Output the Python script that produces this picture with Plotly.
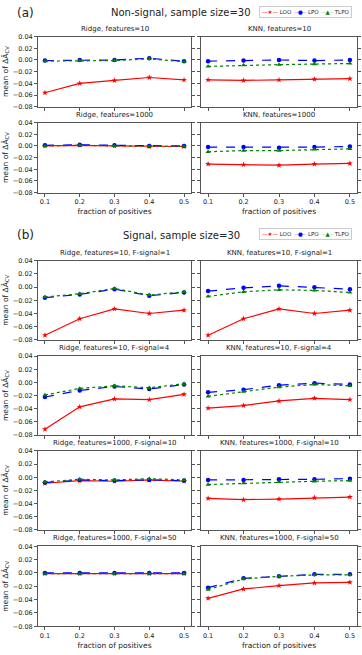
import plotly.graph_objects as go

# fraction of positives
frac = [0.1, 0.2, 0.3, 0.4, 0.5]

# (a) Non-signal, sample size=30
titles_a = ["Ridge, features=10", "KNN, features=10",
            "Ridge, features=1000", "KNN, features=1000"]
loo_a = [
    [-0.056, -0.040, -0.035, -0.030, -0.034],
    [-0.034, -0.035, -0.034, -0.033, -0.032],
    [0.000, 0.001, 0.000, -0.001, -0.001],
    [-0.031, -0.032, -0.033, -0.031, -0.030],
]
lpo_a = [
    [-0.001, 0.000, 0.000, 0.003, -0.002],
    [-0.002, -0.001, 0.000, -0.001, 0.000],
    [0.001, 0.002, 0.001, 0.000, 0.000],
    [-0.002, -0.002, -0.003, -0.002, -0.001],
]
tlpo_a = [
    [-0.002, -0.001, -0.001, 0.002, -0.003],
    [-0.011, -0.009, -0.008, -0.007, -0.006],
    [0.000, 0.001, 0.000, -0.001, -0.001],
    [-0.010, -0.008, -0.008, -0.006, -0.005],
]

# (b) Signal, sample size=30
titles_b = ["Ridge, features=10, F-signal=1", "KNN, features=10, F-signal=1",
            "Ridge, features=10, F-signal=4", "KNN, features=10, F-signal=4",
            "Ridge, features=1000, F-signal=10", "KNN, features=1000, F-signal=10",
            "Ridge, features=1000, F-signal=50", "KNN, features=1000, F-signal=50"]
loo_b = [
    [-0.073, -0.048, -0.033, -0.040, -0.035],
    [-0.073, -0.048, -0.033, -0.040, -0.035],
    [-0.071, -0.037, -0.025, -0.026, -0.018],
    [-0.039, -0.035, -0.028, -0.024, -0.026],
    [-0.009, -0.005, -0.006, -0.004, -0.006],
    [-0.032, -0.034, -0.033, -0.031, -0.030],
    [-0.001, -0.001, -0.001, -0.001, -0.001],
    [-0.038, -0.024, -0.019, -0.015, -0.014],
]
lpo_b = [
    [-0.016, -0.011, -0.003, -0.013, -0.008],
    [-0.006, -0.001, 0.002, 0.000, -0.003],
    [-0.022, -0.012, -0.006, -0.010, -0.003],
    [-0.015, -0.011, -0.004, -0.001, -0.003],
    [-0.008, -0.004, -0.005, -0.004, -0.005],
    [-0.004, -0.004, -0.003, -0.003, -0.002],
    [0.000, 0.000, 0.000, 0.000, 0.000],
    [-0.022, -0.008, -0.005, -0.002, -0.002],
]
tlpo_b = [
    [-0.015, -0.010, -0.002, -0.012, -0.007],
    [-0.014, -0.007, -0.004, -0.005, -0.008],
    [-0.019, -0.009, -0.005, -0.008, -0.002],
    [-0.021, -0.014, -0.007, -0.003, -0.005],
    [-0.007, -0.003, -0.004, -0.002, -0.004],
    [-0.011, -0.009, -0.007, -0.006, -0.005],
    [-0.001, -0.001, -0.001, -0.001, -0.001],
    [-0.025, -0.009, -0.005, -0.003, -0.003],
]

W, H = 362, 655
col_px = [(38, 191), (201, 357)]
row_px = [(33, 104), (120, 191), (260, 340), (356.5, 436.5), (452.5, 532.5), (549, 630)]
axcol = "#555555"

styles = [
    ("LOO", "red", "solid", "star", "—★—"),
    ("LPO", "blue", "dash", "circle", "╌●╌"),
    ("TLPO", "green", "dot", "triangle-up", "┄▲┄"),
]

fig = go.Figure()
layout = dict(width=W, height=H, margin=dict(l=0, r=0, t=0, b=0),
              plot_bgcolor="white", paper_bgcolor="white", showlegend=False,
              font=dict(family="DejaVu Sans", color="#222222"))
annotations = []

panels = [(titles_a, [loo_a, lpo_a, tlpo_a], 0),
          (titles_b, [loo_b, lpo_b, tlpo_b], 2)]

n = 0
for titles, series, row0 in panels:
    for k, title in enumerate(titles):
        n += 1
        r = row0 + k // 2
        c = k % 2
        x0, x1 = col_px[c]
        t0, t1 = row_px[r]
        last_row = (r == 1 or r == 5)
        for (name, color, dash, sym, _), data in zip(styles, series):
            fig.add_trace(go.Scatter(
                x=frac, y=data[k], name=name, mode="lines+markers",
                line=dict(color=color, dash=dash, width=1.2),
                marker=dict(symbol=sym, size=4.5, color=color),
                xaxis="x%d" % n, yaxis="y%d" % n))
        sfx = "" if n == 1 else str(n)
        xa = dict(
            domain=[x0 / W, x1 / W], anchor="y%d" % n, range=[0.08, 0.52],
            tickvals=frac, ticktext=[str(v) for v in frac],
            showticklabels=last_row, ticks="outside", ticklen=3,
            tickcolor=axcol, showline=True, linecolor=axcol, mirror=True,
            showgrid=False, zeroline=False, tickfont=dict(size=6.5))
        if last_row:
            xa["title"] = dict(text="fraction of positives",
                               font=dict(size=7.5), standoff=3)
        ya = dict(
            domain=[1 - t1 / H, 1 - t0 / H], anchor="x%d" % n,
            range=[-0.08, 0.04], dtick=0.02, tickformat=".2f",
            showticklabels=(c == 0), ticks="outside", ticklen=3,
            tickcolor=axcol, showline=True, linecolor=axcol, mirror="ticks",
            showgrid=False, zeroline=False, tickfont=dict(size=6.5))
        if c == 0:
            ya["title"] = dict(text="mean of ΔÂ<sub>CV</sub>",
                               font=dict(size=7.5), standoff=3)
        layout["xaxis" + sfx] = xa
        layout["yaxis" + sfx] = ya
        annotations.append(dict(
            text=title, x=(x0 + x1) / 2 / W, y=1 - (t0 - 2) / H,
            xref="paper", yref="paper", xanchor="center", yanchor="bottom",
            showarrow=False, font=dict(size=7)))

# panel headers and compact legend boxes
for label, head, yc in [("(a)", "Non-signal, sample size=30", 9),
                        ("(b)", "Signal, sample size=30", 234)]:
    annotations.append(dict(
        text=label, x=15 / W, y=1 - yc / H, xanchor="left", yanchor="middle",
        xref="paper", yref="paper", showarrow=False, font=dict(size=12)))
    annotations.append(dict(
        text=head, x=181 / W, y=1 - yc / H, xanchor="center", yanchor="middle",
        xref="paper", yref="paper", showarrow=False, font=dict(size=10)))
    legtext = "  ".join(
        "<span style='color:%s'>%s</span> %s" % (s[1], s[4], s[0]) for s in styles)
    annotations.append(dict(
        text=legtext, x=352 / W, y=1 - (yc - 1) / H, xanchor="right",
        yanchor="middle", xref="paper", yref="paper", showarrow=False,
        font=dict(size=5.5), bordercolor="#cccccc", borderwidth=1, borderpad=2,
        bgcolor="white"))
layout["annotations"] = annotations

fig.update_layout(**layout)
fig.write_html("out.html", config={"displayModeBar": False},
               post_script="document.body.style.margin='0';")
